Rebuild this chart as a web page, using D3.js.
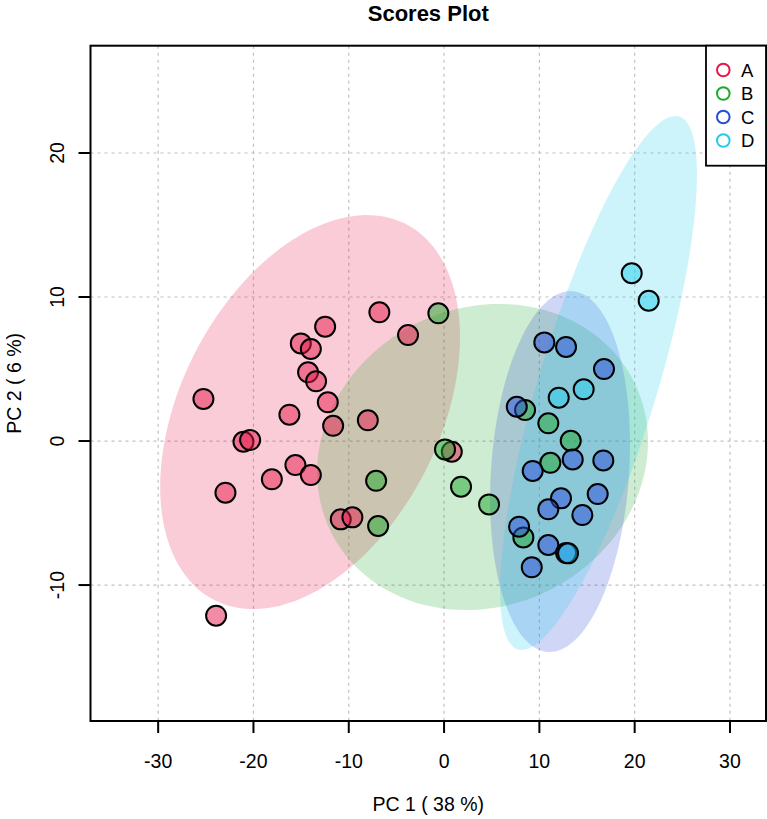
<!DOCTYPE html>
<html>
<head>
<meta charset="utf-8">
<script src="https://cdn.jsdelivr.net/npm/d3@7"></script>
<style>
  html, body { margin: 0; padding: 0; background: #fff; }
  svg { display: block; font-family: "Liberation Sans", Arial, sans-serif; }
</style>
</head>
<body>
<svg id="chart" width="767" height="819"></svg>
<script>
// ---- data ----
const groups = ["A", "B", "C", "D"];
const groupColors = ["#E6194B", "#1FA82E", "#2A4BD8", "#22CDEB"];

// PCA scores [PC1, PC2]
const scoresA = [
  [-25.25, 2.92], [-15.03, 6.78], [-13.98, 6.39], [-12.48, 7.94], [-6.79, 8.94],
  [-3.78, 7.36], [-14.27, 4.77], [-13.43, 4.15], [-12.2, 2.69], [-16.23, 1.83],
  [-11.64, 1.06], [-8.0, 1.44], [-21.05, -0.05], [-20.35, 0.07], [-15.6, -1.67],
  [-13.98, -2.36], [-18.07, -2.66], [-22.94, -3.59], [-10.84, -5.44], [-9.62, -5.3],
  [-23.92, -12.13], [0.81, -0.74]
];
const scoresB = [
  [-0.6, 8.87], [0.1, -0.58], [-7.13, -2.76], [-6.92, -5.9], [1.78, -3.17],
  [4.72, -4.4], [8.32, -6.69], [11.15, -1.51], [8.5, 2.15], [10.94, 1.23],
  [13.29, 0.02]
];
const scoresC = [
  [10.52, 6.85], [12.8, 6.53], [16.78, 5.0], [7.63, 2.38], [13.5, -1.28],
  [16.71, -1.35], [9.3, -2.08], [12.27, -3.98], [10.94, -4.74], [16.12, -3.68],
  [14.51, -5.14], [7.87, -5.95], [10.94, -7.22], [9.2, -8.77], [12.8, -7.78]
];
const scoresD = [
  [19.69, 11.65], [21.47, 9.74], [12.03, 3.01], [14.65, 3.59], [13.01, -7.8]
];
const scoresByGroup = [scoresA, scoresB, scoresC, scoresD];

// 95% confidence ellipses: [centerPC1, centerPC2, halfRangePC1, halfRangePC2, correlation]
const ellipseA = [-14.06, 2.01, 15.73, 13.68, 0.38];
const ellipseB = [4.04, -1.11, 17.36, 10.63, 0.10];
const ellipseC = [12.17, -2.12, 7.34, 12.53, 0.15];
const ellipseD = [16.21, 4.03, 10.33, 18.54, 0.78];
const ellipses = [ellipseA, ellipseB, ellipseC, ellipseD];

const xTicks = [-30, -20, -10, 0, 10, 20, 30];
const yTicks = [-10, 0, 10, 20];
const title = "Scores Plot";
const xTitle = "PC 1 ( 38 %)";
const yTitle = "PC 2 ( 6 %)";

// ---- layout ----
const L = 90.5, R = 766, T = 45.7, B = 721;
const x = d3.scaleLinear().domain([-37.1, 33.78]).range([L, R]);
const y = d3.scaleLinear().domain([-19.44, 27.45]).range([B, T]);

const svg = d3.select("#chart");

function withAlpha(c, a) { const k = d3.color(c); k.opacity = a; return k.toString(); }

// grid
const grid = svg.append("g").attr("stroke", "#c0c0c0").attr("stroke-width", 1.2)
  .attr("stroke-dasharray", "3,4");
grid.selectAll("line.vx").data(xTicks).join("line")
  .attr("x1", d => x(d)).attr("x2", d => x(d)).attr("y1", T).attr("y2", B);
grid.selectAll("line.hy").data(yTicks).join("line")
  .attr("x1", L).attr("x2", R).attr("y1", d => y(d)).attr("y2", d => y(d));

// ellipses
const nSeg = 120;
const line = d3.line().x(d => x(d[0])).y(d => y(d[1])).curve(d3.curveLinearClosed);
function ellipsePoints(e) {
  const [cx, cy, sx, sy, r] = e;
  const s = Math.sqrt(1 - r * r);
  return d3.range(nSeg).map(i => {
    const t = 2 * Math.PI * i / nSeg;
    return [cx + sx * Math.cos(t), cy + sy * (r * Math.cos(t) + s * Math.sin(t))];
  });
}
svg.append("g").selectAll("path").data(ellipses).join("path")
  .attr("d", d => line(ellipsePoints(d)))
  .attr("fill", (d, i) => withAlpha(groupColors[i], 0.22))
  .attr("stroke", "none");

// points
const pts = [];
scoresByGroup.forEach((arr, gi) => arr.forEach(p => pts.push({ g: gi, x: p[0], y: p[1] })));
svg.append("g").selectAll("circle").data(pts).join("circle")
  .attr("cx", d => x(d.x)).attr("cy", d => y(d.y)).attr("r", 10)
  .attr("fill", d => withAlpha(groupColors[d.g], 0.5))
  .attr("stroke", "#000").attr("stroke-width", 2);

// box
svg.append("rect").attr("x", L).attr("y", T).attr("width", R - L).attr("height", B - T)
  .attr("fill", "none").attr("stroke", "#000").attr("stroke-width", 2);

// x axis ticks + labels
const ax = svg.append("g");
ax.selectAll("line").data(xTicks).join("line")
  .attr("x1", d => x(d)).attr("x2", d => x(d)).attr("y1", B).attr("y2", B + 12)
  .attr("stroke", "#000").attr("stroke-width", 2);
ax.selectAll("text").data(xTicks).join("text")
  .attr("x", d => x(d)).attr("y", 767.5).attr("text-anchor", "middle")
  .attr("font-size", 19.5).attr("fill", "#000").text(d => d);

// y axis ticks + labels
const ay = svg.append("g");
ay.selectAll("line").data(yTicks).join("line")
  .attr("x1", L - 12).attr("x2", L).attr("y1", d => y(d)).attr("y2", d => y(d))
  .attr("stroke", "#000").attr("stroke-width", 2);
ay.selectAll("text").data(yTicks).join("text")
  .attr("transform", d => `translate(64,${y(d)}) rotate(-90)`)
  .attr("text-anchor", "middle").attr("font-size", 19.5).attr("fill", "#000").text(d => d);

// titles
svg.append("text").attr("x", (L + R) / 2).attr("y", 20.5).attr("text-anchor", "middle")
  .attr("font-size", 22).attr("font-weight", "bold").text(title);
svg.append("text").attr("x", (L + R) / 2).attr("y", 811).attr("text-anchor", "middle")
  .attr("font-size", 19.5).text(xTitle);
svg.append("text").attr("transform", `translate(21,${(T + B) / 2}) rotate(-90)`)
  .attr("text-anchor", "middle").attr("font-size", 19.5).text(yTitle);

// legend
const lg = svg.append("g");
lg.append("rect").attr("x", 706).attr("y", T).attr("width", R - 706).attr("height", 120)
  .attr("fill", "#fff").attr("stroke", "#000").attr("stroke-width", 1.8);
groups.forEach((g, i) => {
  const yy = 70 + i * 23.5;
  lg.append("circle").attr("cx", 723.3).attr("cy", yy).attr("r", 6.3)
    .attr("fill", "none").attr("stroke", groupColors[i]).attr("stroke-width", 2);
  lg.append("text").attr("x", 741).attr("y", yy + 6.5).attr("font-size", 18.5).text(g);
});
</script>
</body>
</html>
